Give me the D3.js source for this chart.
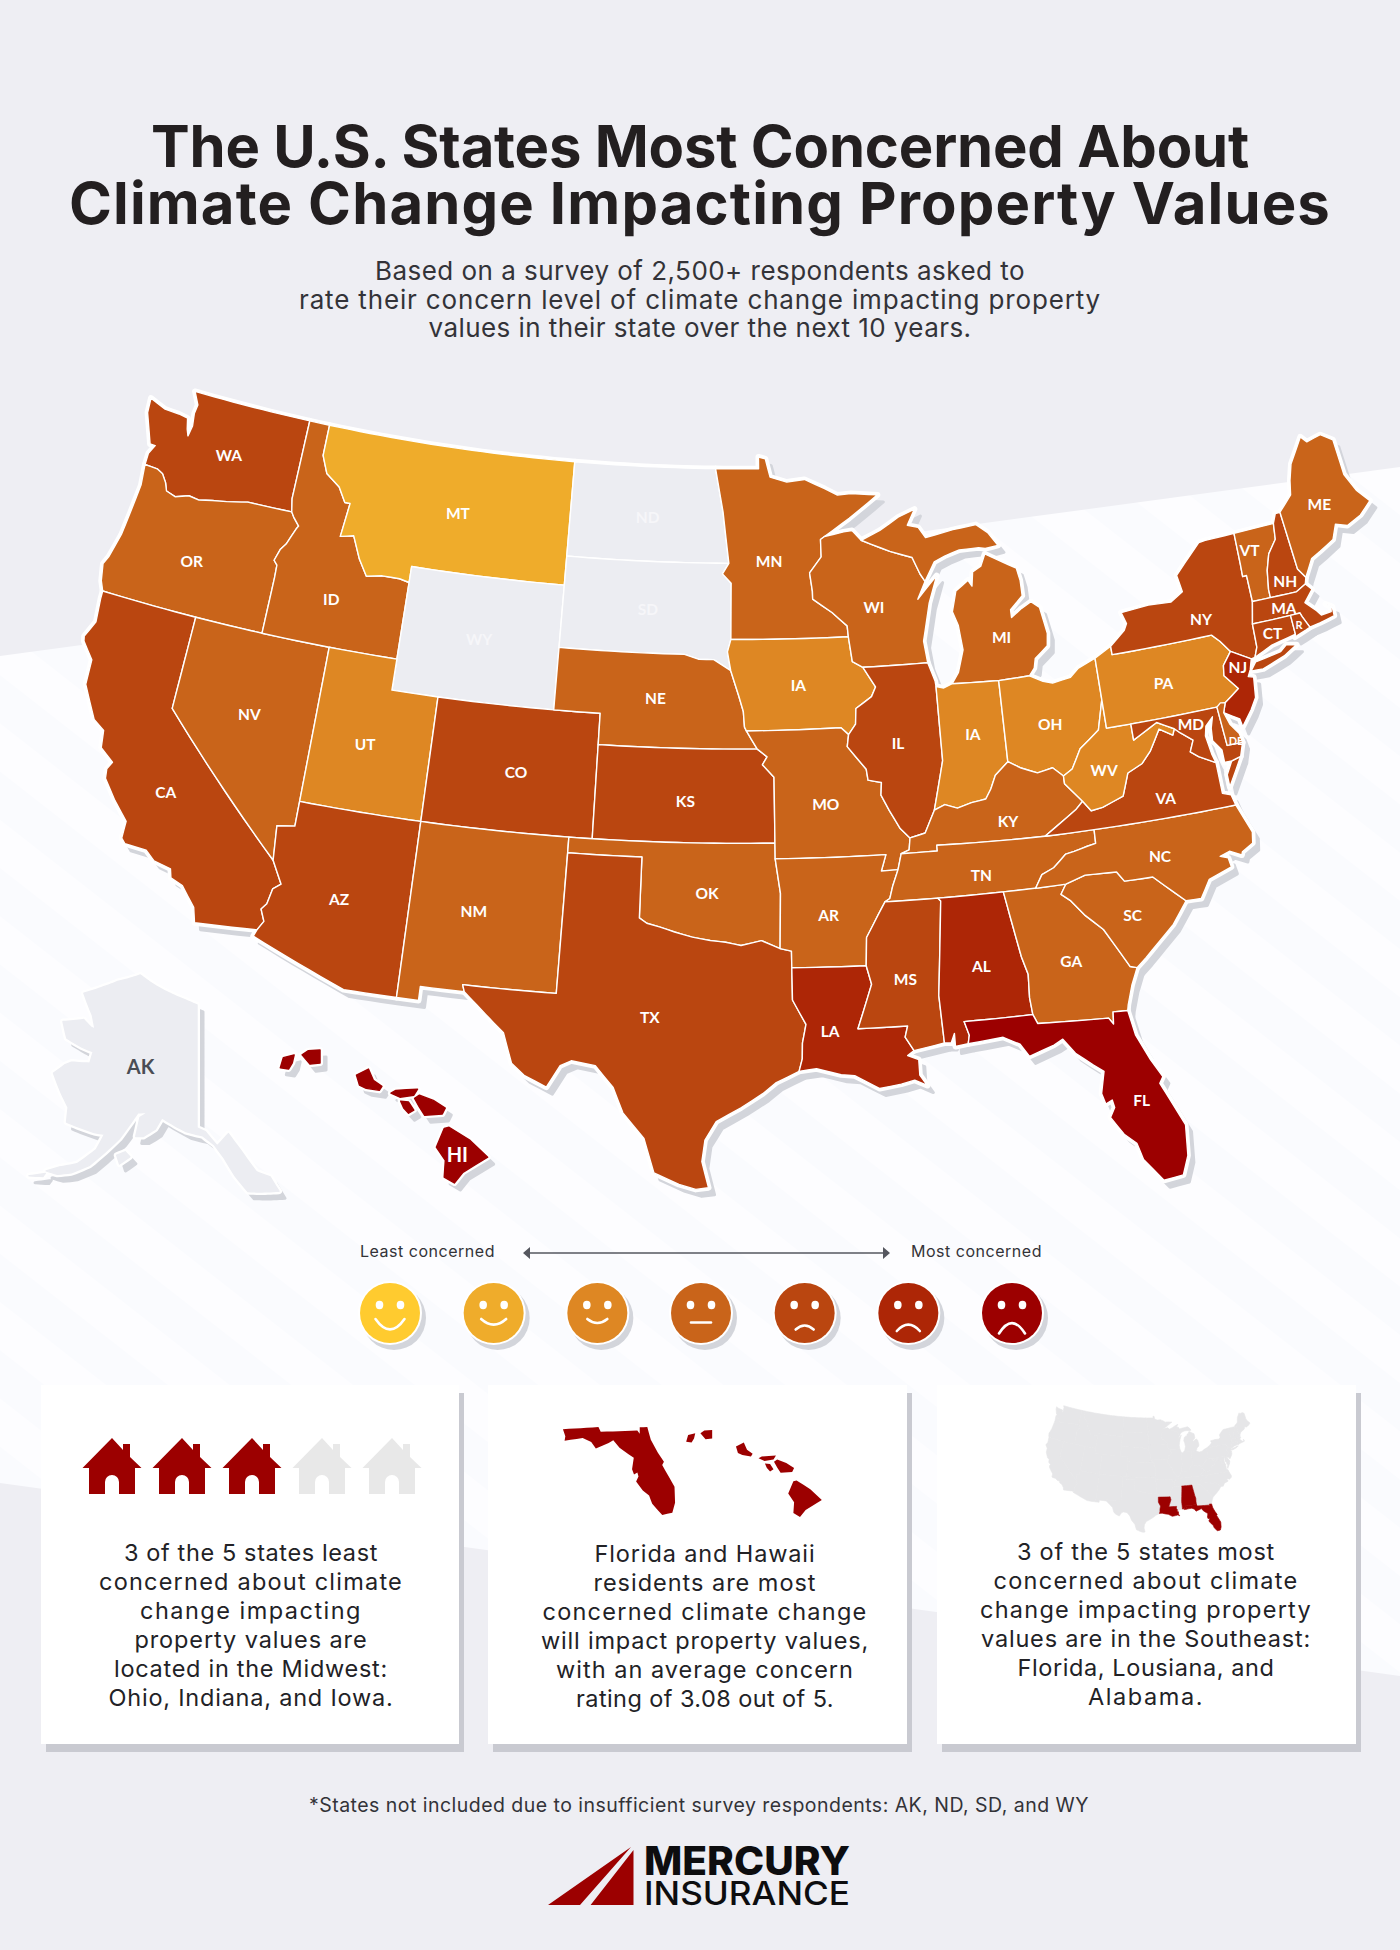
<!DOCTYPE html>
<html>
<head>
<meta charset="utf-8">
<title>Climate concern map</title>
<script src="https://cdnjs.cloudflare.com/ajax/libs/d3/7.8.5/d3.min.js"></script>
<style>
body { margin: 0; background: #eeeef3; }
svg { display: block; }
text { font-family: Inter, "Open Sans", sans-serif; }
</style>
</head>
<body>
<svg id="chart" width="1400" height="1950"></svg>
<script>
// concern scale, least to most
let levelColors = ['#ffcb2f', '#efac2b', '#de8723', '#c9641a', '#ba4610', '#ad2606', '#9c0000']
let noDataColor = '#ecedf2'
let mouthCurve = [13, 7, 5, 0, -5, -8, -13]
let mouthWidth = [29, 25, 20, 20, 18, 23, 26]

let stateIds = ['WA','OR','CA','NV','ID','MT','WY','UT','AZ','CO','NM','ND','SD','NE','KS','OK','TX','MN','IA','MO','AR','LA','WI','IL','MI','IN','OH','KY','TN','MS','AL','GA','FL','SC','NC','VA','WV','PA','NY','NJ','VT','NH','ME','MA','CT','RI','MD','DE','HI','AK']
let stateLevels = [4,3,4,3,3,1,null,2,4,4,3,null,null,3,4,3,4,3,2,3,3,5,3,4,3,2,2,3,3,4,5,3,6,3,3,4,2,2,4,5,3,4,3,4,4,4,4,3,6,null]
// the source labels Indiana as "IA" too
let stateLabels = ['WA','OR','CA','NV','ID','MT','WY','UT','AZ','CO','NM','ND','SD','NE','KS','OK','TX','MN','IA','MO','AR','LA','WI','IL','MI','IA','OH','KY','TN','MS','AL','GA','FL','SC','NC','VA','WV','PA','NY','NJ','VT','NH','ME','MA','CT','R','MD','DE','HI','AK']
let labelLon = [-120.4,-120.8,-119.4,-116.8,-114.35,-109.3,-107.6,-111.8,-111.8,-105.4,-106.5,-100.4,-100.2,-99.7,-98.3,-97.35,-99.45,-94.7,-93.5,-92.5,-92.55,-92.65,-90,-89.35,-84.45,-86.15,-82.85,-85.1,-86.4,-89.7,-86.75,-83.3,-81.45,-80.7,-79.25,-78.6,-80.9,-77.8,-75.65,-74.55,-72.85,-71.65,-69.25,-72,-72.75,-71.55,-77,-75.3,-155.6,-152.8]
let labelLat = [47.3,43.7,36.35,39.4,43.5,46.9,43,39.15,34.15,38.9,34.35,47.35,44.4,41.55,38.3,35.4,31.4,46,42,38.2,34.65,30.95,44.4,40,43.05,40.1,40.1,37.2,35.6,32.5,32.7,32.55,27.8,33.7,35.4,37.2,38.4,40.8,42.55,40.8,44.35,43.1,45.2,42.3,41.6,41.65,39.35,38.55,19.6,64.5]
let smallLabels = ['RI','DE']
let faintLabels = ['WY','ND','SD']

let surveyTitle = ['The U.S. States Most Concerned About', 'Climate Change Impacting Property Values']
let surveyIntro = ['Based on a survey of 2,500+ respondents asked to', 'rate their concern level of climate change impacting property', 'values in their state over the next 10 years.']
let cardOne = ['3 of the 5 states least', 'concerned about climate', 'change impacting', 'property values are', 'located in the Midwest:', 'Ohio, Indiana, and Iowa.']
let cardTwo = ['Florida and Hawaii', 'residents are most', 'concerned climate change', 'will impact property values,', 'with an average concern', 'rating of 3.08 out of 5.']
let cardThree = ['3 of the 5 states most', 'concerned about climate', 'change impacting property', 'values are in the Southeast:', 'Florida, Lousiana, and', 'Alabama.']
let footNote = '*States not included due to insufficient survey respondents: AK, ND, SD, and WY'
let houseValues = [1, 1, 1, 0, 0]
let southeastStates = ['FL', 'LA', 'AL']

// shared borders, lon/lat
let rev = a => a.slice().reverse()
let waor = [[-124.05,46.27],[-123.45,46.25],[-123.15,46.15],[-122.9,45.9],[-122.75,45.65],[-122.3,45.55],[-121.7,45.7],[-121.2,45.65],[-120.6,45.75],[-119.95,45.83],[-119.3,45.93],[-119,45.98],[-116.92,46]]
let snake = [[-117.03,42],[-117.03,43.83],[-117.05,44.23],[-117.22,44.36],[-117.05,44.75],[-116.85,44.95],[-116.55,45.5],[-116.47,45.6],[-116.78,45.85],[-116.92,46]]
let bitterroot = [[-116.05,49],[-116.05,48],[-115.7,47.45],[-115,47.1],[-114.6,46.65],[-114.35,46.65],[-114.5,45.55],[-113.9,45.65],[-113.45,44.95],[-113,44.45],[-112.3,44.55],[-111.5,44.55],[-111.05,44.48]]
let coloradoR = [[-114.63,35],[-114.14,34.3],[-114.43,34.1],[-114.54,33.6],[-114.72,33.4],[-114.52,33.03],[-114.72,32.72]]
let redRiver = [[-94.48,33.64],[-95.2,33.9],[-96,33.75],[-96.6,33.85],[-97.2,33.9],[-97.9,34],[-98.6,34.15],[-99.2,34.3],[-99.7,34.4],[-100,34.56]]
let mo1 = [[-96.45,42.5],[-96.1,41.7],[-95.9,41.2],[-95.85,40.7],[-95.77,40.58]]
let miss1 = [[-92.29,46.66],[-92.29,46.1],[-92.85,45.6],[-92.75,45],[-92.75,44.75],[-91.9,44.3],[-91.25,43.85],[-91.22,43.5]]
let miss2 = [[-91.22,43.5],[-91.1,42.7],[-90.65,42.5],[-90.15,41.85],[-90.35,41.55],[-91.05,41.2],[-91.1,40.7],[-91.42,40.38]]
let miss3 = [[-91.42,40.38],[-91.5,40],[-90.75,39.25],[-90.7,38.9],[-90.15,38.8],[-90.2,38.4],[-89.9,37.9],[-89.5,37.3],[-89.13,36.98]]
let miss6 = [[-90.3,35],[-90.6,34.6],[-91.1,33.9],[-91.17,33],[-91,32.4],[-91.6,31]]
let ohio1 = [[-89.13,36.98],[-88.5,37.1],[-88.05,37.8]]
let ohio2 = [[-88.05,37.8],[-87.6,37.95],[-87.1,37.8],[-86.5,37.93],[-85.9,38],[-85.65,38.3],[-85.4,38.72],[-84.82,39.1]]
let ohio3 = [[-84.82,39.1],[-84.3,38.85],[-83.65,38.63],[-83,38.73],[-82.6,38.42]]
let ohio4 = [[-82.6,38.42],[-82.2,38.6],[-81.75,39.2],[-80.87,39.7],[-80.52,40.64]]
let tugfork = [[-82.6,38.42],[-82.6,38.17],[-81.97,37.54]]
let kyva = [[-81.97,37.54],[-82.3,37.3],[-82.7,37.1],[-83.68,36.6]]
let wvva = [[-81.97,37.54],[-81.68,37.2],[-81.2,37.25],[-80.3,37.5],[-79.95,38.2],[-79.3,38.42],[-78.87,38.77],[-78.35,39.4],[-77.83,39.13],[-77.72,39.32]]
let potomac = [[-77.72,39.32],[-77.5,39.15],[-77.04,38.85],[-77.25,38.5],[-76.95,38.3],[-76.3,38]]
let tnnc = [[-81.68,36.59],[-81.7,36.15],[-82.05,36.1],[-82.6,36],[-82.95,35.95],[-83.5,35.57],[-84,35.4],[-84.32,34.99]]
let gasc = [[-83.11,35],[-83.35,34.7],[-83,34.45],[-82.55,33.95],[-81.9,33.4],[-81.4,32.6],[-81.1,32.1],[-80.85,32.03]]
let ncsc = [[-83.11,35],[-82.3,35.2],[-81.05,35.15],[-80.8,34.82],[-79.67,34.8],[-78.55,33.87]]
let alga = [[-85.6,35],[-85.18,32.87],[-85,32.3],[-85.05,31.55],[-85,31]]
let msal = [[-88.2,35],[-88.1,34.9],[-88.47,31.9],[-88.4,30.37]]
let pearl = [[-91.6,31],[-89.73,31],[-89.85,30.65],[-89.55,30.2]]
let sabine = [[-94.04,33.02],[-94.04,31.99],[-93.55,31.2],[-93.7,30.6],[-93.72,30.1],[-93.85,29.7]]
let dnj = [[-74.7,41.36],[-75.13,40.97],[-75.2,40.65],[-74.72,40.15],[-75.4,39.8]]
let vtny = [[-73.35,45.01],[-73.4,44],[-73.43,43.6],[-73.25,43.6],[-73.27,42.75]]
let vtnh = [[-71.5,45.01],[-71.6,44.5],[-72.05,44.1],[-72.3,43.6],[-72.45,43],[-72.46,42.73]]
let nyct = [[-73.5,42.05],[-73.55,41.3],[-73.73,41]]
let wimi = [[-90.4,46.57],[-89.1,46.15],[-88.1,45.9],[-87.8,45.35],[-87.6,45.1]]

let stateRings = {
  WA: [[[-122.76,49],[-117.03,49],[-117.04,46.42],...rev(waor),[-124.05,46.65],[-123.85,46.95],[-124.1,46.95],[-124.3,47.3],[-124.65,47.9],[-124.7,48.38],[-123.9,48.17],[-123.2,48.15],[-122.75,48.1],[-122.62,47.75],[-122.5,47.55],[-122.42,47.9],[-122.5,48.3],[-122.45,48.6]]],
  OR: [[...waor,...rev(snake),[-124.21,42],[-124.4,42.3],[-124.55,42.84],[-124.4,43.1],[-124.15,43.9],[-124.05,44.7],[-123.95,45.6]]],
  CA: [[[-124.21,42],[-120,42],[-120,39],...coloradoR,[-117.12,32.53],[-117.28,33],[-117.9,33.6],[-118.4,33.75],[-118.5,34.03],[-119.2,34.15],[-119.6,34.42],[-120.47,34.45],[-120.65,34.6],[-120.65,35.15],[-121.3,35.7],[-121.9,36.3],[-121.95,36.6],[-121.8,36.85],[-122.4,37.2],[-122.5,37.75],[-123,38],[-123.75,39],[-123.8,39.8],[-124.35,40.3],[-124.4,40.45],[-124.1,41],[-124.2,41.75]]],
  NV: [[[-120,42],[-114.04,42],[-114.04,36.2],[-114.75,36.1],[-114.63,35],[-120,39]]],
  ID: [[[-117.03,49],...bitterroot,[-111.05,42],...snake,[-117.04,46.42]]],
  MT: [[[-116.05,49],[-104.05,49],[-104.05,45],[-111.05,45],...rev(bitterroot)]],
  WY: [[[-111.05,45],[-104.05,45],[-104.05,41],[-111.05,41]]],
  UT: [[[-114.04,42],[-111.05,42],[-111.05,41],[-109.05,41],[-109.05,37],[-114.04,37]]],
  AZ: [[[-114.04,37],[-109.05,37],[-109.05,31.33],[-111.07,31.33],[-114.81,32.5],...rev(coloradoR),[-114.75,36.1],[-114.04,36.2]]],
  CO: [[[-109.05,41],[-102.05,41],[-102.05,37],[-109.05,37]]],
  NM: [[[-109.05,37],[-103,37],[-103.04,32],[-106.62,32],[-106.53,31.78],[-108.21,31.78],[-108.21,31.33],[-109.05,31.33]]],
  ND: [[[-104.05,49],[-97.23,49],[-96.85,47.6],[-96.56,45.94],[-104.05,45.94]]],
  SD: [[[-104.05,45.94],[-96.56,45.94],[-96.85,45.6],[-96.45,45.3],[-96.45,43.5],[-96.6,43.1],[-96.45,42.5],[-97.2,42.85],[-97.85,42.85],[-98.5,43],[-104.05,43]]],
  NE: [[[-104.05,43],[-98.5,43],[-97.85,42.85],[-97.2,42.85],...mo1,[-95.31,40],[-102.05,40],[-102.05,41],[-104.05,41]]],
  KS: [[[-102.05,40],[-95.31,40],[-94.9,39.75],[-95.1,39.5],[-94.62,39.1],[-94.62,37],[-102.05,37]]],
  OK: [[[-103,37],[-94.62,37],[-94.62,36.5],[-94.43,35.4],...redRiver,[-100,36.5],[-103,36.5]]],
  TX: [[[-103,36.5],[-100,36.5],...rev(redRiver),[-94.04,33.55],...sabine,[-94.7,29.35],[-95.2,29],[-96,28.55],[-96.9,28.1],[-97.3,27.5],[-97.4,26.8],[-97.15,25.96],[-97.6,25.9],[-98.2,26.05],[-99.1,26.4],[-99.5,27.5],[-100.3,28.3],[-100.7,29.1],[-101.4,29.77],[-102.3,29.88],[-102.7,29.7],[-103.15,28.98],[-104,29.3],[-104.5,29.65],[-104.9,30.6],[-106,31.4],[-106.53,31.78],[-106.62,32],[-103.04,32]]],
  MN: [[[-97.23,49],[-95.15,49],[-95.15,49.38],[-94.82,49.32],[-94.6,48.72],[-93.8,48.55],[-92.95,48.62],[-92,48.3],[-91.4,48.07],[-90.75,48.1],[-89.5,48],[-90.9,47.3],[-92.1,46.75],...miss1,[-96.45,43.5],[-96.45,45.3],[-96.85,45.6],[-96.56,45.94],[-96.85,47.6]]],
  IA: [[[-96.45,43.5],...miss2,[-91.73,40.61],...rev(mo1),[-96.6,43.1]]],
  MO: [[[-95.77,40.58],[-91.73,40.61],...miss3,[-89.2,36.6],[-89.53,36.5],[-89.7,36],[-90.37,35.99],[-90.15,36.5],[-94.62,36.5],[-94.62,39.1],[-95.1,39.5],[-94.9,39.75],[-95.31,40]]],
  AR: [[[-94.62,36.5],[-90.15,36.5],[-90.37,35.99],[-89.7,36],[-89.95,35.5],[-90.1,35.1],[-90.3,35],[-90.6,34.6],[-91.1,33.9],[-91.17,33],[-94.04,33.02],[-94.04,33.55],[-94.48,33.64],[-94.43,35.4]]],
  LA: [[[-94.04,33.02],[-91.17,33],[-91,32.4],...pearl,[-89.8,30.05],[-89.4,29.9],[-89.4,29.4],[-89.15,29.05],[-89.6,29.25],[-90.1,29.15],[-90.9,29.05],[-91.8,29.5],[-92.3,29.55],[-93.2,29.77],...rev(sabine)]],
  WI: [[...miss1.slice(0,1),[-92.1,46.75],[-91.2,46.87],[-90.8,46.9],...wimi,[-88,44.55],[-87.4,45],[-87.05,45.25],[-87.5,44.4],[-87.7,43.8],[-87.9,43.2],[-87.8,42.5],[-90.65,42.5],[-91.1,42.7],...rev(miss1)]],
  IL: [[[-90.65,42.5],[-87.8,42.5],[-87.55,41.9],[-87.53,41.72],[-87.53,39.35],...rev(ohio1),...rev(miss3),[-91.1,40.7],[-91.05,41.2],[-90.35,41.55],[-90.15,41.85]]],
  MI: [[[-86.82,41.76],[-86.5,42.1],[-86.2,42.8],[-86.3,43.6],[-86.5,44.05],[-86.25,44.7],[-85.65,45],[-85.5,44.8],[-85.4,45.25],[-85,45.4],[-84.75,45.78],[-84.1,45.5],[-83.4,45.2],[-83.3,44.8],[-83.3,44.3],[-83.9,43.9],[-83.9,43.65],[-83.4,43.9],[-82.95,44.07],[-82.6,43.85],[-82.42,43],[-82.5,42.6],[-83.1,42.25],[-83.2,41.95],[-83.45,41.73],[-84.8,41.7]],
       [...wimi,[-87.1,45.7],[-86.6,45.85],[-85.9,46],[-85,46],[-84.7,45.95],[-84.1,46],[-84.5,46.45],[-85,46.75],[-86.1,46.67],[-87.4,46.5],[-87.7,46.85],[-88.2,46.95],[-87.8,47.45],[-88.6,47.23],[-89.5,46.85]]],
  IN: [[[-87.53,41.72],[-87.2,41.65],[-86.82,41.76],[-84.8,41.7],...rev(ohio2),[-87.53,39.35]]],
  OH: [[[-84.8,41.7],[-83.45,41.73],[-82.9,41.5],[-82.5,41.4],[-81.7,41.5],[-81.3,41.75],[-80.52,41.98],...rev(ohio4),...rev(ohio3)]],
  KY: [[...ohio1,...ohio2,...ohio3,...tugfork,...kyva,[-88.07,36.68],[-88.07,36.5],[-89.53,36.5],[-89.2,36.6]]],
  TN: [[[-90.3,35],[-88.2,35],[-85.6,35],...rev(tnnc),[-83.68,36.6],[-88.07,36.68],[-88.07,36.5],[-89.53,36.5],[-89.7,36],[-89.95,35.5],[-90.1,35.1]]],
  MS: [[...miss6,...pearl.slice(1),...rev(msal)]],
  AL: [[...msal.slice(0,1),...alga,[-87.6,31],[-87.45,30.55],[-87.52,30.28],[-88,30.23],[-88,30.65],[-88.15,30.35],...rev(msal)]],
  GA: [[[-85.6,35],...gasc,[-81.15,31.5],[-81.4,30.9],[-81.45,30.72],[-82,30.75],[-82.05,30.36],[-82.2,30.57],[-84.86,30.7],...rev(alga)]],
  FL: [[[-87.6,31],[-85,31],[-84.86,30.7],[-82.2,30.57],[-82.05,30.36],[-82,30.75],[-81.45,30.72],[-81.3,29.9],[-80.9,29.05],[-80.55,28.45],[-80.7,28.25],[-80.35,27.5],[-80.03,26.8],[-80.13,25.8],[-80.4,25.2],[-81.1,25.13],[-81.7,25.9],[-81.85,26.45],[-82.25,26.8],[-82.65,27.4],[-82.45,27.7],[-82.5,27.95],[-82.75,27.85],[-82.85,28.2],[-82.65,28.9],[-83,29.15],[-83.6,29.6],[-84,30.1],[-84.35,29.95],[-85.3,29.68],[-85.6,30.1],[-86.2,30.38],[-87.52,30.28],[-87.45,30.55]]],
  SC: [[...ncsc,[-79.2,33.2],[-79.9,32.7],[-80.45,32.3],...rev(gasc)]],
  NC: [[...ncsc,[-77.95,33.85],[-77.5,34.4],[-76.55,34.65],[-76.6,34.95],[-76.9,35.05],[-76.5,35.15],[-76.05,34.95],[-76,35.05],[-75.53,35.25],[-75.45,35.6],[-75.87,36.55],...tnnc]],
  VA: [[[-83.68,36.6],[-81.68,36.59],[-75.87,36.55],[-75.97,36.9],[-76.3,37],[-76.3,37.5],...rev(potomac),...rev(wvva),[-82.3,37.3],[-82.7,37.1]],
       [[-75.65,37.95],[-75.25,38.03],[-75.95,37.15],[-75.95,37.55]]],
  WV: [[...rev(tugfork),...ohio4,[-80.52,39.72],[-79.48,39.72],[-79.48,39.2],[-78.4,39.62],...rev(wvva)]],
  PA: [[[-80.52,41.98],[-79.76,42.27],[-79.76,42],[-75.35,42],[-75.05,41.75],...dnj,[-75.78,39.72],[-80.52,39.72]]],
  NY: [[[-79.76,42.27],[-79.05,42.7],[-78.9,42.9],[-79.05,43.27],[-77.8,43.35],[-76.8,43.3],[-76.2,43.55],[-76.3,44.1],[-75.8,44.45],[-75,44.98],[-74.7,45],...vtny,...nyct,[-73.9,40.98],[-74.7,41.36],[-75.05,41.75],[-75.35,42],[-79.76,42]],
       [[-74.03,40.6],[-73.75,40.85],[-72.6,40.98],[-72.3,41.15],[-71.87,41.07],[-72.5,40.82],[-73.5,40.58]]],
  NJ: [[...dnj,[-75.55,39.5],[-74.95,39.2],[-74.9,38.93],[-74.4,39.4],[-74.1,39.75],[-73.98,40.4],[-74.2,40.45],[-74.05,40.65],[-73.9,40.98]]],
  VT: [[[-73.35,45.01],...vtnh,...rev(vtny)]],
  NH: [[[-71.5,45.01],[-71.3,45.3],[-71.08,45.3],[-70.98,43.4],[-70.72,43.07],[-70.82,42.87],[-71.3,42.7],...rev(vtnh)]],
  ME: [[[-71.08,45.3],[-70.4,45.75],[-70.25,46.2],[-70,46.7],[-69.23,47.46],[-69,47.25],[-68.3,47.35],[-67.8,47.07],[-67.78,45.9],[-67.45,45.3],[-67,44.85],[-67.6,44.5],[-68.3,44.3],[-68.8,44.45],[-69.1,44],[-69.8,43.75],[-70.25,43.6],[-70.72,43.07],[-70.98,43.4]]],
  MA: [[[-73.5,42.05],[-73.27,42.75],[-72.46,42.73],[-71.3,42.7],[-70.82,42.87],[-70.6,42.65],[-71.05,42.3],[-70.65,41.95],[-70.5,41.78],[-70.05,41.8],[-70,41.95],[-70.2,42.08],[-69.95,41.95],[-69.97,41.65],[-70.65,41.55],[-71.12,41.5],[-71.33,41.9],[-71.38,42.02],[-71.8,42.02]]],
  CT: [[[-73.5,42.05],[-71.8,42.02],[-71.8,41.4],[-72.9,41.25],[-73.73,41],[-73.55,41.3]]],
  RI: [[[-71.8,42.02],[-71.38,42.02],[-71.33,41.9],[-71.12,41.5],[-71.3,41.45],[-71.85,41.32],[-71.8,41.4]]],
  MD: [[[-79.48,39.72],[-75.78,39.72],[-75.7,38.46],[-75.05,38.45],[-75.25,38.03],[-75.65,37.95],[-75.95,37.95],[-75.95,38.35],[-76.25,38.7],[-76.2,39.1],[-76.05,39.45],[-76.4,39.2],[-76.5,38.9],[-76.4,38.3],...rev(potomac),[-78.4,39.62],[-79.48,39.2]]],
  DE: [[[-75.78,39.72],[-75.6,39.83],[-75.4,39.8],[-75.55,39.5],[-75.4,39.1],[-75.1,38.75],[-75.05,38.45],[-75.7,38.46]]],
  HI: [[[-155.95,20.27],[-155.82,20.3],[-155.26,19.97],[-154.79,19.55],[-155.45,19.17],[-155.68,18.9],[-155.95,19.05],[-155.92,19.47],[-156.16,19.8]],
       [[-156.74,21.02],[-156.61,21.1],[-156.24,20.97],[-155.92,20.78],[-156,20.63],[-156.47,20.6],[-156.61,20.8]],
       [[-157.37,21.15],[-157.24,21.22],[-156.66,21.25],[-156.76,21.1],[-157.13,21.05]],
       [[-157.11,20.95],[-156.9,20.93],[-156.76,20.73],[-156.9,20.65],[-157.03,20.78]],
       [[-158.29,21.6],[-157.97,21.75],[-157.84,21.47],[-157.61,21.32],[-157.68,21.22],[-158.03,21.27],[-158.21,21.35]],
       [[-159.74,22.1],[-159.58,22.2],[-159.26,22.22],[-159.26,21.9],[-159.53,21.87]],
       [[-160.32,21.78],[-160.24,22.03],[-159.95,22.1],[-160,21.9],[-160.1,21.75]]],
  AK: [[[-141,69.65],[-141,60.3],[-139.5,60],[-137.5,58.9],[-135.4,59.75],[-133.5,58.4],[-131.3,56.6],[-129.2,56],[-128.2,54.8],[-130.8,55],[-133,55.2],[-134.8,56.5],[-136.5,58],[-138,59],[-140,59.7],[-143,60],[-145,60.4],[-147.5,60.9],[-148.5,60],[-150.5,59.3],[-151.8,59.2],[-151.5,60.7],[-150,61.2],[-152,61],[-153.5,59.7],[-154.5,58.8],[-156.5,57.5],[-158.5,56.2],[-161,55.2],[-163,54.7],[-164.8,54.6],[-163,55.3],[-160.5,56],[-158,57.5],[-157.2,58.8],[-159,58.7],[-164,58.7],[-164.5,59.8],[-166.5,60.6],[-169,61.7],[-167.5,62.7],[-166.5,63.1],[-163,63.6],[-163,64.5],[-165.5,64.5],[-169,64.6],[-171,65.6],[-167,66.5],[-165,66.2],[-164,66.2],[-165.5,67.1],[-169,68.35],[-165,69.5],[-162,70.3],[-156.6,71.35],[-152,70.8],[-148,70.4],[-144,70]],
       [[-164.8,54.4],[-167,53.7],[-165,54.1]],
       [[-154.5,57.5],[-153.2,57.9],[-152.3,57.6],[-153.8,56.9]]]
}

// edges follow parallels, not great arcs, and rings need d3's winding
let densify = ring => {
  let closed = ring.concat([ring[0]])
  let out = []
  for (let i = 0; i < closed.length - 1; i++) {
    let a = closed[i], b = closed[i + 1]
    let n = Math.max(1, Math.ceil(Math.max(Math.abs(b[0] - a[0]), Math.abs(b[1] - a[1])) / 0.5))
    if (a[0] == b[0] && a[1] == b[1]) continue
    for (let k = 0; k < n; k++) out.push([a[0] + (b[0] - a[0]) * k / n, a[1] + (b[1] - a[1]) * k / n])
  }
  out.push(out[0])
  let poly = {type: 'Polygon', coordinates: [out]}
  return d3.geoArea(poly) > 2 * Math.PI ? out.reverse() : out
}

let states = stateIds.map((id, i) => ({
  type: 'Feature',
  id: id,
  level: stateLevels[i],
  label: stateLabels[i],
  lonlat: [labelLon[i], labelLat[i]],
  geometry: {type: 'MultiPolygon', coordinates: stateRings[id].map(r => [densify(r)])}
}))
let byId = id => states.find(d => d.id == id)
let lower48 = states.filter(d => d.id != 'AK' && d.id != 'HI')
let asCollection = list => ({type: 'FeatureCollection', features: list})

let mainProjection = d3.geoAlbers().rotate([96, 0]).center([0, 38]).parallels([29.5, 45.5]).scale(1783).translate([741, 812])
let hawaiiProjection = d3.geoMercator().fitExtent([[279, 1050], [489, 1183]], byId('HI'))

// the inset Alaska is taller than its true shape, so x and y get their own scales
let alaskaBase = d3.geoAlbers().rotate([141, 0]).center([0, 62]).parallels([55, 65]).scale(1).translate([0, 0])
let alaskaBounds = d3.geoPath(alaskaBase).bounds(byId('AK'))
let xAlaska = d3.scaleLinear().domain([alaskaBounds[0][0], alaskaBounds[1][0]]).range([29, 279])
let yAlaska = d3.scaleLinear().domain([alaskaBounds[0][1], alaskaBounds[1][1]]).range([975, 1192])
let alaskaProjection = p => {
  let q = alaskaBase(p)
  return [xAlaska(q[0]), yAlaska(q[1])]
}
alaskaProjection.stream = s => alaskaBase.stream(d3.geoTransform({
  point(x, y) { this.stream.point(xAlaska(x), yAlaska(y)) }
}).stream(s))

let projectionFor = d => d.id == 'HI' ? hawaiiProjection : d.id == 'AK' ? alaskaProjection : mainProjection
let pathFor = d => d3.geoPath(projectionFor(d))(d)
let fillFor = d => d.level === null ? noDataColor : levelColors[d.level]

let svg = d3.select('#chart')

let drawBackground = () => {
  svg.append('rect').attr('width', 1400).attr('height', 1950).attr('fill', '#eeeef3')
  let pattern = svg.append('defs').append('pattern')
    .attr('id', 'stripes').attr('width', 76).attr('height', 76)
    .attr('patternUnits', 'userSpaceOnUse').attr('patternTransform', 'rotate(38)')
  pattern.append('rect').attr('width', 76).attr('height', 76).attr('fill', '#fdfdff')
  pattern.append('rect').attr('width', 76).attr('height', 38).attr('fill', '#fafbfe')
  svg.append('path').attr('d', 'M0,656 L1400,467 L1400,1676 L0,1483 Z').attr('fill', 'url(#stripes)')
}

// widths: the span of each line
let drawLines = (lines, cx, firstBaseline, gap, size, weight, color, widths) => {
  let g = svg.append('g').attr('text-anchor', 'middle').attr('font-size', size).attr('font-weight', weight).attr('fill', color)
  g.selectAll('text').data(lines).enter().append('text')
    .attr('x', cx).attr('y', (d, i) => firstBaseline + i * gap).text(d => d)
    .each(function (d, i) {
      let spacing = (widths[i] - this.getComputedTextLength()) / d.length
      d3.select(this).attr('letter-spacing', spacing)
    })
}

let drawHeader = () => {
  drawLines(surveyTitle, 700, 167, 57, 58, 650, '#231f20', [1098, 1262])
  drawLines(surveyIntro, 700, 280, 28.5, 26, 400, '#333338', [650, 802, 543])
}

let drawMap = () => {
  let g = svg.append('g')
  g.append('g').attr('transform', 'translate(6,7)').selectAll('path').data(states).enter().append('path')
    .attr('d', pathFor).attr('fill', '#d3d5db').attr('stroke', '#d3d5db').attr('stroke-width', 3).attr('stroke-linejoin', 'round')
  g.append('g').selectAll('path').data(states).enter().append('path')
    .attr('d', pathFor).attr('fill', '#fff').attr('stroke', '#fff').attr('stroke-width', 6).attr('stroke-linejoin', 'round')
  g.append('g').selectAll('path').data(states).enter().append('path')
    .attr('class', 'state').attr('d', pathFor).attr('fill', fillFor)
    .attr('stroke', d => d.id == 'HI' ? levelColors[6] : d.id == 'AK' ? noDataColor : '#fff').attr('stroke-width', 1.4).attr('stroke-linejoin', 'round')
  g.append('g').attr('text-anchor', 'middle').selectAll('text').data(states).enter().append('text')
    .attr('transform', d => 'translate(' + projectionFor(d)(d.lonlat) + ')')
    .attr('dy', '0.36em')
    .style('font-family', 'Lato, sans-serif')
    .attr('font-weight', 700)
    .attr('font-size', d => smallLabels.includes(d.id) ? 11 : (d.id == 'AK' || d.id == 'HI') ? 20 : 15.5)
    .attr('fill', d => d.id == 'AK' ? '#4a4d55' : faintLabels.includes(d.id) ? '#f6f6f9' : '#fff')
    .text(d => d.label)
}

let drawLegend = () => {
  let xFace = d3.scalePoint().domain(d3.range(levelColors.length)).range([390, 1012])
  let yFace = 1313
  drawLines(['Least concerned'], 427.5, 1257, 0, 16, 400, '#333338', [135])
  drawLines(['Most concerned'], 976.5, 1257, 0, 16, 400, '#333338', [131])
  svg.append('line').attr('x1', 526).attr('x2', 887).attr('y1', 1253).attr('y2', 1253).attr('stroke', '#55575f').attr('stroke-width', 1.5)
  svg.append('path').attr('d', 'M523,1253 L530,1247 L530,1259 Z M890,1253 L883,1247 L883,1259 Z').attr('fill', '#55575f')

  let faces = svg.selectAll('g.face').data(levelColors).enter().append('g')
    .attr('class', 'face').attr('transform', (d, i) => 'translate(' + xFace(i) + ',' + yFace + ')')
  faces.append('circle').attr('cx', 4).attr('cy', 5).attr('r', 32).attr('fill', '#d3d5db')
  faces.append('circle').attr('r', 32).attr('fill', '#fff')
  faces.append('circle').attr('r', 30).attr('fill', d => d)
  faces.selectAll('ellipse.eye').data([-10.5, 10.5]).enter().append('ellipse')
    .attr('class', 'eye').attr('cx', d => d).attr('cy', -8).attr('rx', 3.8).attr('ry', 4.2).attr('fill', '#fff')
  faces.append('path')
    .attr('d', (d, i) => {
      let w = mouthWidth[i] / 2, c = mouthCurve[i]
      let y = c > 0 ? 6 : c < 0 ? 14 - c / 2 : 9.5
      let p = d3.path()
      p.moveTo(-w, y)
      p.quadraticCurveTo(0, y + c * 1.6, w, y)
      return p.toString()
    })
    .attr('fill', 'none').attr('stroke', '#fff').attr('stroke-width', 2.6).attr('stroke-linecap', 'round')
}

let drawCard = (x, y, w, h) => {
  svg.append('rect').attr('x', x + 5).attr('y', y + 8).attr('width', w).attr('height', h).attr('fill', '#c9cad1')
  svg.append('rect').attr('x', x).attr('y', y).attr('width', w).attr('height', h).attr('fill', '#fff')
}

let drawCards = () => {
  drawCard(41, 1385, 418, 359)
  drawCard(488, 1385, 419, 359)
  drawCard(937, 1385, 419, 359)

  // card one: houses
  let xHouse = d3.scalePoint().domain(d3.range(houseValues.length)).range([112, 392])
  let house = 'M0,-56 L11,-44 L11,-50 L18,-50 L18,-37 L29.5,-26 L23,-26 L23,0 L7,0 L7,-12 A7,7 0 0 0 -7,-12 L-7,0 L-23,0 L-23,-26 L-29.5,-26 Z'
  svg.selectAll('path.house').data(houseValues).enter().append('path')
    .attr('class', 'house').attr('d', house)
    .attr('transform', (d, i) => 'translate(' + xHouse(i) + ',1494)')
    .attr('fill', d => d ? '#9c0000' : '#e8e8e8')

  // card two: Florida and Hawaii
  let floridaProjection = d3.geoAlbers().rotate([92, 0]).parallels([29.5, 45.5]).fitExtent([[561, 1427], [677, 1515]], byId('FL'))
  let smallHawaii = d3.geoMercator().fitExtent([[686, 1430], [822, 1517]], byId('HI'))
  svg.append('path').attr('d', d3.geoPath(floridaProjection)(byId('FL'))).attr('fill', '#9c0000')
  svg.append('path').attr('d', d3.geoPath(smallHawaii)(byId('HI'))).attr('fill', '#9c0000')

  // card three: small US with the three southeast states
  let miniProjection = d3.geoAlbers().rotate([96, 0]).parallels([29.5, 45.5]).fitExtent([[1046, 1405], [1250, 1533]], asCollection(lower48))
  let mini = d3.geoPath(miniProjection)
  let miniG = svg.append('g')
  miniG.selectAll('path').data(lower48).enter().append('path')
    .attr('d', mini)
    .attr('fill', d => southeastStates.includes(d.id) ? '#9c0000' : '#e6e6e8')
    .attr('stroke', d => southeastStates.includes(d.id) ? '#9c0000' : '#e6e6e8').attr('stroke-width', 0.6)
  miniG.selectAll('path').sort((a, b) => southeastStates.includes(a.id) - southeastStates.includes(b.id))

  drawLines(cardOne, 251, 1561, 29, 23.5, 400, '#222226', [254, 304, 222, 233, 274, 285])
  drawLines(cardTwo, 705, 1562, 29, 23.5, 400, '#222226', [221, 223, 325, 328, 298, 258])
  drawLines(cardThree, 1146, 1560, 29, 23.5, 400, '#222226', [258, 305, 332, 330, 257, 116])
}

let drawFooter = () => {
  drawLines([footNote], 699, 1812, 0, 19.5, 400, '#333338', [780])
  svg.append('path').attr('d', 'M548,1905 L631,1847 L580,1905 Z M590.6,1905 L633.5,1850 L633.5,1905 Z').attr('fill', '#9c0000')
  svg.append('text').attr('x', 644).attr('y', 1875).attr('font-size', 39).attr('font-weight', 800)
    .attr('fill', '#0d0d0f').attr('textLength', 206).attr('lengthAdjust', 'spacingAndGlyphs').text('MERCURY')
  svg.append('text').attr('x', 644).attr('y', 1905).attr('font-size', 32).attr('font-weight', 500)
    .attr('fill', '#0d0d0f').attr('textLength', 206).attr('lengthAdjust', 'spacingAndGlyphs').text('INSURANCE')
}

drawBackground()
drawHeader()
drawMap()
drawLegend()
drawCards()
drawFooter()
</script>
</body>
</html>
